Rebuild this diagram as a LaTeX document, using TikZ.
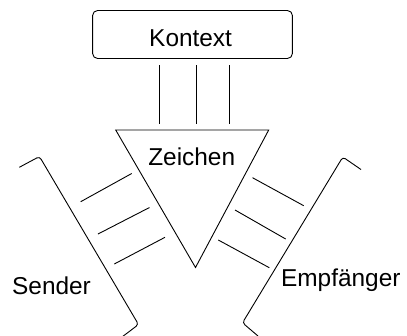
\documentclass[tikz,border=0pt]{standalone}
\usepackage{fontspec}
\setmainfont{Liberation Sans}
\begin{document}
\begin{tikzpicture}[x=1pt,y=-1pt,line width=0.9pt,
  lbl/.style={font=\fontsize{24.4}{28}\selectfont,inner sep=0pt,anchor=base},
  framebox/.style={draw=black,rounded corners=5pt,minimum width=199.8pt,minimum height=48pt,inner sep=0pt},
  wire/.style={draw=black},
  holder/.style={draw=black,rounded corners=3pt}]
\useasboundingbox (0,0) rectangle (407,335);

% context box and its label
\node[framebox] (kontext) at (192.5,34.5) {};
\node[lbl] (kontextText) at (190.6,46) {Kontext};

% three links from the context down to the sign
\coordinate (k1a) at (159.7,65);   \coordinate (k1b) at (159.7,123.5);
\coordinate (k2a) at (196.7,65);   \coordinate (k2b) at (196.7,123.5);
\coordinate (k3a) at (229.7,65);   \coordinate (k3b) at (229.7,123.5);
\draw[wire] (k1a) -- (k1b);
\draw[wire] (k2a) -- (k2b);
\draw[wire] (k3a) -- (k3b);

% the sign triangle
\coordinate (tl) at (115.7,130);
\coordinate (tr) at (268.7,130);
\coordinate (tb) at (195.5,267.5);
\draw (tl) -- (tr) -- (tb) -- cycle;
\node[lbl] (zeichen) at (191.7,165.7) {Zeichen};

% sender bracket and its links
\coordinate (s0) at (19.3,167.3);
\coordinate (s1) at (39.5,156.5);
\coordinate (s2) at (138.5,324.5);
\coordinate (s3) at (122,337);
\draw[holder] (s0) -- (s1) -- (s2) -- (s3);
\coordinate (sa1) at (80.7,201.7);  \coordinate (sb1) at (131.7,173.5);
\coordinate (sa2) at (98,234);      \coordinate (sb2) at (149.5,207.5);
\coordinate (sa3) at (114.3,264);   \coordinate (sb3) at (165,237.3);
\draw[wire] (sa1) -- (sb1);
\draw[wire] (sa2) -- (sb2);
\draw[wire] (sa3) -- (sb3);
\node[lbl] (sender) at (51.5,294) {Sender};

% receiver bracket and its links
\coordinate (e0) at (361,169.5);
\coordinate (e1) at (342.8,157);
\coordinate (e2) at (242.5,322.8);
\coordinate (e3) at (258,336);
\draw[holder] (e0) -- (e1) -- (e2) -- (e3);
\coordinate (ea1) at (252.5,177.7); \coordinate (eb1) at (303.7,205.7);
\coordinate (ea2) at (235,210);     \coordinate (eb2) at (285.7,239);
\coordinate (ea3) at (218.3,240);   \coordinate (eb3) at (269.3,267.7);
\draw[wire] (ea1) -- (eb1);
\draw[wire] (ea2) -- (eb2);
\draw[wire] (ea3) -- (eb3);
\node[lbl] (empfaenger) at (340.8,286) {Empfänger};
\end{tikzpicture}
\end{document}
